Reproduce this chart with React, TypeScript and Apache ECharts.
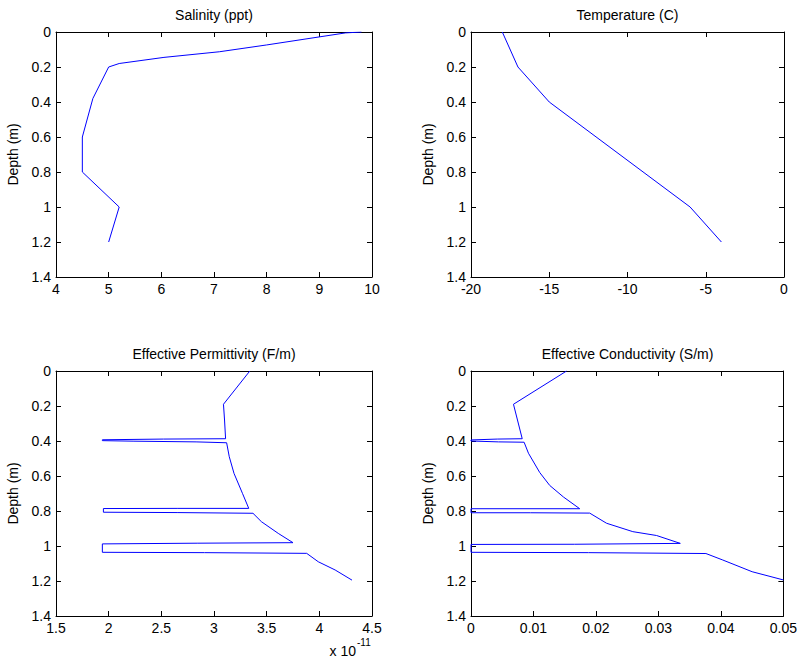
import React, { useEffect, useRef } from "react";
import * as echarts from "echarts";

// ---- Data (value, depth) ----
const salinityDepth = [0, 0.005, 0.074, 0.113, 0.145, 0.18, 0.2, 0.38, 0.6, 0.8, 1.0, 1.2];
const salinityValue = [9.8, 9.5, 8.0, 7.1, 6.05, 5.2, 5.0, 4.7, 4.5, 4.5, 5.2, 5.0];

const temperatureDepth = [0, 0.2, 0.4, 1.0, 1.2];
const temperatureValue = [-18, -17, -15, -6, -4];

// permittivity in units of 1e-11 F/m
const permittivityDepth = [
  0, 0.19, 0.28, 0.387, 0.389, 0.393, 0.398, 0.401, 0.405, 0.41, 0.49, 0.585, 0.699, 0.785,
  0.785, 0.786, 0.807, 0.809, 0.813, 0.861, 0.928, 0.981, 0.984, 0.988, 1.036, 1.038, 1.042,
  1.09, 1.137, 1.195,
];
const permittivityValue = [
  3.34, 3.09, 3.1, 3.11, 2.52, 1.94, 1.94, 2.24, 2.83, 3.12, 3.145, 3.19, 3.27, 3.33,
  2.65, 1.95, 1.95, 2.65, 3.37, 3.45, 3.61, 3.75, 2.84, 1.94, 1.94, 2.91, 3.88,
  3.99, 4.15, 4.31,
];

const conductivityDepth = [
  0, 0.19, 0.387, 0.389, 0.394, 0.4, 0.405, 0.407, 0.47, 0.58, 0.654, 0.72, 0.787,
  0.787, 0.81, 0.81, 0.812, 0.87, 0.918, 0.94, 0.985, 0.99, 0.991, 1.036, 1.038, 1.043,
  1.08, 1.147, 1.194,
];
const conductivityValue = [
  0.0153, 0.0068, 0.0082, 0.0042, 0, 0, 0.0044, 0.0085, 0.0092, 0.011, 0.0126, 0.0148, 0.0174,
  0, 0, 0.0095, 0.019, 0.0217, 0.0259, 0.0297, 0.0335, 0.0166, 0, 0, 0.0188, 0.0376,
  0.0403, 0.045, 0.05,
];

const titles = [
  "Salinity (ppt)",
  "Temperature (C)",
  "Effective Permittivity (F/m)",
  "Effective Conductivity (S/m)",
];
const yLabel = "Depth (m)";
const xRanges = [
  { min: 4, max: 10, interval: 1 },
  { min: -20, max: 0, interval: 5 },
  { min: 1.5, max: 4.5, interval: 0.5 },
  { min: 0, max: 0.05, interval: 0.01 },
];
const depthRange = { min: 0, max: 1.4, interval: 0.2 };

const seriesData = [
  [salinityValue, salinityDepth],
  [temperatureValue, temperatureDepth],
  [permittivityValue, permittivityDepth],
  [conductivityValue, conductivityDepth],
];

const FONT = 'Arial, "Liberation Sans", sans-serif';

export default function App() {
  const ref = useRef<HTMLDivElement>(null);
  useEffect(() => {
    if (!ref.current) return;
    const chart = echarts.init(ref.current, undefined, { renderer: "svg" });
    const grids = [
      { left: 56, top: 32, width: 316, height: 245 },
      { left: 471, top: 32, width: 313, height: 245 },
      { left: 56, top: 371, width: 316, height: 245 },
      { left: 471, top: 371, width: 313, height: 245 },
    ];
    const lineStyle = { color: "#000", width: 1 };
    const tick = { show: true, inside: true, length: 5, lineStyle: { color: "#000", width: 1 } };
    const label = { color: "#000", fontSize: 14, fontFamily: FONT, margin: 5 };
    const xAxis: any[] = [];
    const yAxis: any[] = [];
    grids.forEach((g, i) => {
      const r = xRanges[i];
      xAxis.push({
        type: "value", gridIndex: i, position: "bottom", min: r.min, max: r.max, interval: r.interval,
        axisLine: { show: true, onZero: false, lineStyle }, axisTick: tick, splitLine: { show: false },
        axisLabel: { ...label, formatter: (v: number) => String(Math.round(v * 1e6) / 1e6) },
      });
      xAxis.push({
        type: "value", gridIndex: i, position: "top", min: r.min, max: r.max, interval: r.interval,
        axisLine: { show: true, onZero: false, lineStyle }, axisTick: tick, splitLine: { show: false },
        axisLabel: { show: false },
      });
      yAxis.push({
        type: "value", gridIndex: i, position: "left", inverse: true, ...depthRange,
        axisLine: { show: true, onZero: false, lineStyle }, axisTick: tick, splitLine: { show: false },
        axisLabel: { ...label, formatter: (v: number) => String(Math.round(v * 1e6) / 1e6) },
      });
      yAxis.push({
        type: "value", gridIndex: i, position: "right", inverse: true, ...depthRange,
        axisLine: { show: true, onZero: false, lineStyle }, axisTick: tick, splitLine: { show: false },
        axisLabel: { show: false },
      });
    });
    const series = seriesData.map(([xs, ys], i) => ({
      type: "line",
      xAxisIndex: 2 * i,
      yAxisIndex: 2 * i,
      data: xs.map((x, k) => [x, ys[k]]),
      showSymbol: false,
      symbol: "none",
      lineStyle: { color: "#0000ff", width: 1 },
      itemStyle: { color: "#0000ff" },
      silent: true,
    }));
    const graphic: any[] = [];
    grids.forEach((g, i) => {
      graphic.push({
        type: "text",
        x: g.left + g.width / 2,
        y: g.top - 17,
        style: { text: titles[i], fill: "#000", font: `14px ${FONT}`, textAlign: "center", textVerticalAlign: "middle" },
      });
      graphic.push({
        type: "text",
        x: g.left - 43,
        y: g.top + g.height / 2,
        rotation: Math.PI / 2,
        style: { text: yLabel, fill: "#000", font: `14px ${FONT}`, textAlign: "center", textVerticalAlign: "middle" },
      });
    });
    graphic.push({
      type: "text", x: 356, y: 651,
      style: { text: "x 10", fill: "#000", font: `14px ${FONT}`, textAlign: "right", textVerticalAlign: "middle" },
    });
    graphic.push({
      type: "text", x: 357, y: 642,
      style: { text: "-11", fill: "#000", font: `10px ${FONT}`, textAlign: "left", textVerticalAlign: "middle" },
    });
    chart.setOption({
      animation: false,
      backgroundColor: "#fff",
      grid: grids,
      xAxis,
      yAxis,
      series,
      graphic,
    });
    return () => chart.dispose();
  }, []);
  return (
    <div
      ref={ref}
      style={{ position: "absolute", left: 0, top: 0, width: 800, height: 667 }}
    />
  );
}
